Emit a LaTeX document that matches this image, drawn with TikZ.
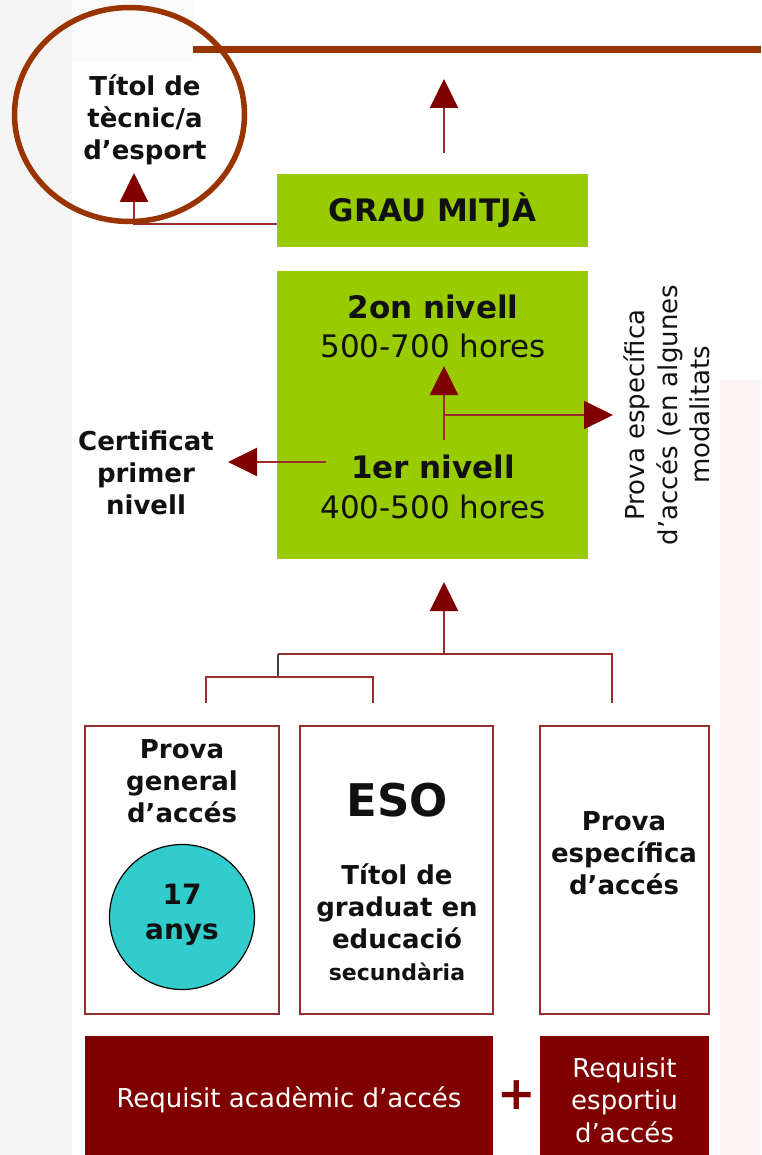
\documentclass[tikz,border=0pt]{standalone}
\usepackage{fontspec}
\setmainfont{DejaVu Sans}
\usetikzlibrary{arrows.meta}
\definecolor{grn}{HTML}{99CC00}
\definecolor{dred}{HTML}{800000}
\definecolor{lred}{HTML}{9B2C2C}
\definecolor{rust}{HTML}{993300}
\definecolor{cyanc}{HTML}{33CCCC}
\definecolor{pinkbg}{RGB}{253,244,245}
\definecolor{txt}{HTML}{111111}
\begin{document}
\begin{tikzpicture}[x=1pt,y=-1pt,
  gbox/.style={fill=grn, inner sep=0pt, text=txt},
  rbox/.style={draw=lred, line width=2pt, fill=white, inner sep=0pt},
  dbox/.style={fill=dred, inner sep=0pt},
  lab/.style={font=\bfseries\fontsize{26}{32}\selectfont, align=center, inner sep=0pt, text=txt},
  wlab/.style={font=\fontsize{26}{32.5}\selectfont, align=center, inner sep=0pt, text=white},
  conn/.style={draw=lred, line width=2pt},
  arr/.style={draw=lred, line width=2pt, -{Triangle[length=29pt,width=28pt,color=dred]}}
]
\useasboundingbox (0,0) rectangle (761,1155);
% background
\fill[white] (0,0) rectangle (761,1155);
\fill[gray!8] (0,0) rectangle (72,1155);
\fill[gray!4] (72,0) rectangle (193,61);
\fill[pinkbg] (720,380) rectangle (761,1155);

% green boxes
\node[gbox, minimum width=311pt, minimum height=73pt, font=\bfseries\fontsize{31}{36}\selectfont] (grau) at (432.5,210.5) {GRAU MITJÀ};
\node[gbox, minimum width=311pt, minimum height=288pt] (niv) at (432.5,415) {};
\node[font=\bfseries\fontsize{31}{36}\selectfont, anchor=base, inner sep=0pt, text=txt] (n2) at (433,318) {2on nivell};
\node[font=\fontsize{31}{36}\selectfont, anchor=base, inner sep=0pt, text=txt] (h2) at (433,357) {500-700 hores};
\node[font=\bfseries\fontsize{31}{36}\selectfont, anchor=base, inner sep=0pt, text=txt] (n1) at (433,478) {1er nivell};
\node[font=\fontsize{31}{36}\selectfont, anchor=base, inner sep=0pt, text=txt] (h1) at (433,518) {400-500 hores};

% labels
\node[lab] (tit) at (145,120) {Títol de\\tècnic/a\\d’esport};
\node[lab] (cert) at (146,473) {Certificat\\primer\\nivell};
\node[font=\fontsize{26}{32.5}\selectfont, align=center, inner sep=0pt, text=txt, rotate=90] (pesp) at (667,415) {Prova específica\\d’accés (en algunes\\modalitats};

% arrows top
\coordinate (titA) at (134,173);
\draw[arr] ([yshift=-13.5pt]grau.west) -| (titA);
\coordinate (upS) at (444,153);
\coordinate (upE) at (444,79);
\draw[arr] (upS) -- (upE);
% inner arrows
\coordinate (ia0) at (444,440);
\coordinate (ia1) at (444,366);
\coordinate (ib0) at (444,415);
\coordinate (ib1) at (613,415);
\draw[arr] (ia0) -- (ia1);
\draw[arr] (ib0) -- (ib1);
% certificat arrow
\coordinate (c0) at (326,462);
\coordinate (c1) at (228,462);
\draw[arr] (c0) -- (c1);

% bottom boxes
\node[rbox, minimum width=194pt, minimum height=288pt] (b1) at (182,870) {};
\node[rbox, minimum width=193pt, minimum height=288pt] (b2) at (396.5,870) {};
\node[rbox, minimum width=169pt, minimum height=288pt] (b3) at (624.5,870) {};
\node[lab] (b1t) at (182,781) {Prova\\general\\d’accés};
\node[circle, draw=black, line width=1.2pt, fill=cyanc, minimum size=145pt, inner sep=0pt] (age) at (182,917) {};
\node[lab, font=\bfseries\fontsize{28}{35}\selectfont] (aget) at (182,915) {17\\anys};
\node[lab, font=\bfseries\fontsize{45}{50}\selectfont] (eso) at (397,800) {ESO};
\node[lab] (b2t) at (397,922) {Títol de\\graduat en\\educació\\{\fontsize{22}{28}\selectfont secundària}};
\node[lab] (b3t) at (624,853) {Prova\\específica\\d’accés};

% tree connectors
\coordinate (t0) at (444,654);
\coordinate (t1) at (444,582);
\draw[arr] (t0) -- (t1);
\coordinate (jL) at (278,654);
\coordinate (jR) at (612,654);
\coordinate (b3top) at (612,703);
\draw[conn] (jL) -- (jR) -- (b3top);
\coordinate (jL2) at (278,677);
\draw[draw=black!75, line width=2pt] (jL) -- (jL2);
\coordinate (p1) at (206,703);
\coordinate (q1) at (206,677);
\coordinate (q2) at (373,677);
\coordinate (p2) at (373,703);
\draw[conn] (p1) -- (q1) -- (q2) -- (p2);

% dark red requirement boxes
\node[dbox, minimum width=408pt, minimum height=128pt] (ra) at (289,1100) {};
\node[wlab] (rat) at (289,1100) {Requisit acadèmic d’accés};
\node[dbox, minimum width=169pt, minimum height=128pt] (rb) at (624.5,1100) {};
\node[wlab] (rbt) at (624.5,1100) {Requisit\\esportiu\\d’accés};
\node[font=\bfseries\fontsize{46}{50}\selectfont, text=dred, inner sep=0pt] (plus) at (517,1095) {+};

% highlight circle and top line
\draw[rust, line width=7pt] (193,49.5) -- (761,49.5);
\draw[rust, line width=5.5pt] (129.5,114.5) ellipse [x radius=115, y radius=107];
\end{tikzpicture}
\end{document}
